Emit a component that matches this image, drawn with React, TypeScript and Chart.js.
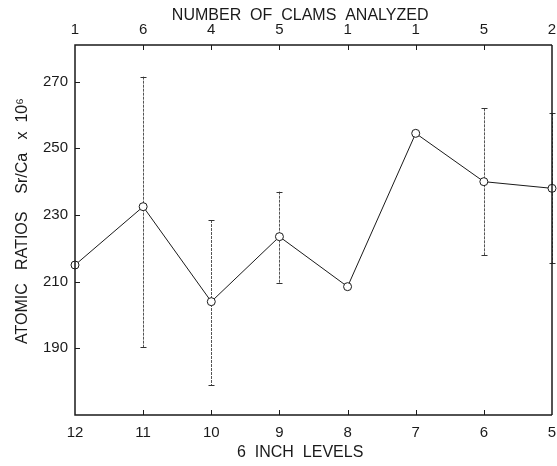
import { useEffect, useRef } from "react";
import { Chart, registerables } from "chart.js";

Chart.register(...registerables);

const levels = ["12", "11", "10", "9", "8", "7", "6", "5"];
const clamCounts = ["1", "6", "4", "5", "1", "1", "5", "2"];
const srCaRatio = [215, 232.5, 204, 223.5, 208.5, 254.5, 240, 238];
const errLow: (number | null)[] = [null, 190.3, 179, 209.5, null, null, 218, 215.5];
const errHigh: (number | null)[] = [null, 271.5, 228.5, 237, null, null, 262, 260.5];
const yTicks = [190, 210, 230, 250, 270];

const FONT = "'Liberation Sans', Arial, sans-serif";
const INK = "#1a1a1a";

const framePlugin = {
  id: "frame",
  beforeDatasetsDraw(chart: any) {
    const { ctx, scales } = chart;
    const x = scales.x;
    const y = scales.y;
    ctx.save();
    ctx.strokeStyle = "#555";
    ctx.lineWidth = 1;
    ctx.setLineDash([3, 1]);
    for (let i = 0; i < levels.length; i++) {
      const lo = errLow[i];
      const hi = errHigh[i];
      if (lo == null || hi == null) continue;
      const px = Math.round(x.getPixelForValue(i)) + 0.5;
      const pTop = y.getPixelForValue(hi);
      const pBot = y.getPixelForValue(lo);
      ctx.beginPath();
      ctx.moveTo(px, pTop);
      ctx.lineTo(px, pBot);
      ctx.stroke();
    }
    ctx.setLineDash([]);
    ctx.strokeStyle = "#333";
    for (let i = 0; i < levels.length; i++) {
      const lo = errLow[i];
      const hi = errHigh[i];
      if (lo == null || hi == null) continue;
      const px = Math.round(x.getPixelForValue(i)) + 0.5;
      for (const v of [lo, hi]) {
        const py = Math.round(y.getPixelForValue(v)) + 0.5;
        ctx.beginPath();
        ctx.moveTo(px - 3, py);
        ctx.lineTo(px + 3, py);
        ctx.stroke();
      }
    }
    ctx.restore();
  },
  afterDraw(chart: any) {
    const { ctx, chartArea: a, scales } = chart;
    const x = scales.x;
    const y = scales.y;
    ctx.save();
    ctx.strokeStyle = INK;
    ctx.lineWidth = 1;
    for (const v of yTicks) {
      const py = Math.round(y.getPixelForValue(v)) + 0.5;
      ctx.beginPath();
      ctx.moveTo(a.left, py);
      ctx.lineTo(a.left + 5, py);
      ctx.stroke();
    }
    for (let i = 1; i < levels.length - 1; i++) {
      const px = Math.round(x.getPixelForValue(i)) + 0.5;
      ctx.beginPath();
      ctx.moveTo(px, a.bottom);
      ctx.lineTo(px, a.bottom - 5);
      ctx.moveTo(px, a.top);
      ctx.lineTo(px, a.top + 5);
      ctx.stroke();
    }
    ctx.lineWidth = 1.5;
    ctx.beginPath();
    ctx.moveTo(a.right, a.top);
    ctx.lineTo(a.left, a.top);
    ctx.lineTo(a.left, a.bottom);
    ctx.lineTo(a.right, a.bottom);
    ctx.stroke();
    ctx.beginPath();
    ctx.moveTo(a.right, a.top);
    ctx.lineTo(a.right, a.bottom);
    ctx.stroke();
    ctx.restore();
  },
};

export default function App() {
  const ref = useRef<HTMLCanvasElement | null>(null);

  useEffect(() => {
    if (!ref.current) return;
    const chart = new Chart(ref.current, {
      type: "line",
      data: {
        labels: levels,
        datasets: [
          {
            data: srCaRatio,
            borderColor: INK,
            borderWidth: 1,
            pointRadius: 4,
            pointBorderWidth: 1,
            pointBackgroundColor: "#fff",
            pointBorderColor: INK,
            tension: 0,
            clip: false as any,
          },
        ],
      },
      options: {
        responsive: false,
        animation: false,
        events: [],
        layout: { padding: { left: 0, right: 2, top: 0, bottom: 0 } },
        plugins: { legend: { display: false }, tooltip: { enabled: false } },
        scales: {
          x: {
            type: "category",
            position: "bottom",
            offset: false,
            grid: { display: false, drawTicks: false },
            border: { display: false },
            ticks: {
              color: INK,
              font: { family: FONT, size: 15 },
              padding: 9,
              maxRotation: 0,
              autoSkip: false,
            },
            title: {
              display: true,
              text: "6  INCH  LEVELS      ",
              color: INK,
              font: { family: FONT, size: 16 },
              padding: { top: 0, bottom: 4 },
            },
            afterFit: (s: any) => {
              s.height = 51;
              s.paddingLeft = 0;
              s.paddingRight = 0;
            },
          },
          x2: {
            type: "category",
            position: "top",
            labels: clamCounts,
            offset: false,
            grid: { display: false, drawTicks: false },
            border: { display: false },
            ticks: {
              color: INK,
              font: { family: FONT, size: 15 },
              padding: 6,
              maxRotation: 0,
              autoSkip: false,
            },
            title: {
              display: true,
              text: "NUMBER  OF  CLAMS  ANALYZED      ",
              color: INK,
              font: { family: FONT, size: 16 },
              padding: { top: 6, bottom: 0 },
            },
            afterFit: (s: any) => {
              s.height = 45;
              s.paddingLeft = 0;
              s.paddingRight = 0;
            },
          },
          y: {
            type: "linear",
            position: "left",
            min: 170,
            max: 281,
            grid: { display: false, drawTicks: false },
            border: { display: false },
            afterBuildTicks: (s: any) => {
              s.ticks = yTicks.map((v) => ({ value: v }));
            },
            ticks: {
              color: INK,
              font: { family: FONT, size: 15 },
              padding: 7,
            },
            title: {
              display: true,
              text: "    ATOMIC   RATIOS    Sr/Ca   x  10\u2076",
              color: INK,
              font: { family: FONT, size: 16 },
              padding: { top: 13, bottom: 0 },
            },
            afterFit: (s: any) => {
              s.width = 75;
            },
          },
        },
      },
      plugins: [framePlugin],
    });
    return () => chart.destroy();
  }, []);

  return (
    <div style={{ position: "fixed", left: 0, top: 0, width: 557, height: 466, background: "#fff" }}>
      <canvas ref={ref} width={557} height={466} style={{ display: "block" }} />
    </div>
  );
}
